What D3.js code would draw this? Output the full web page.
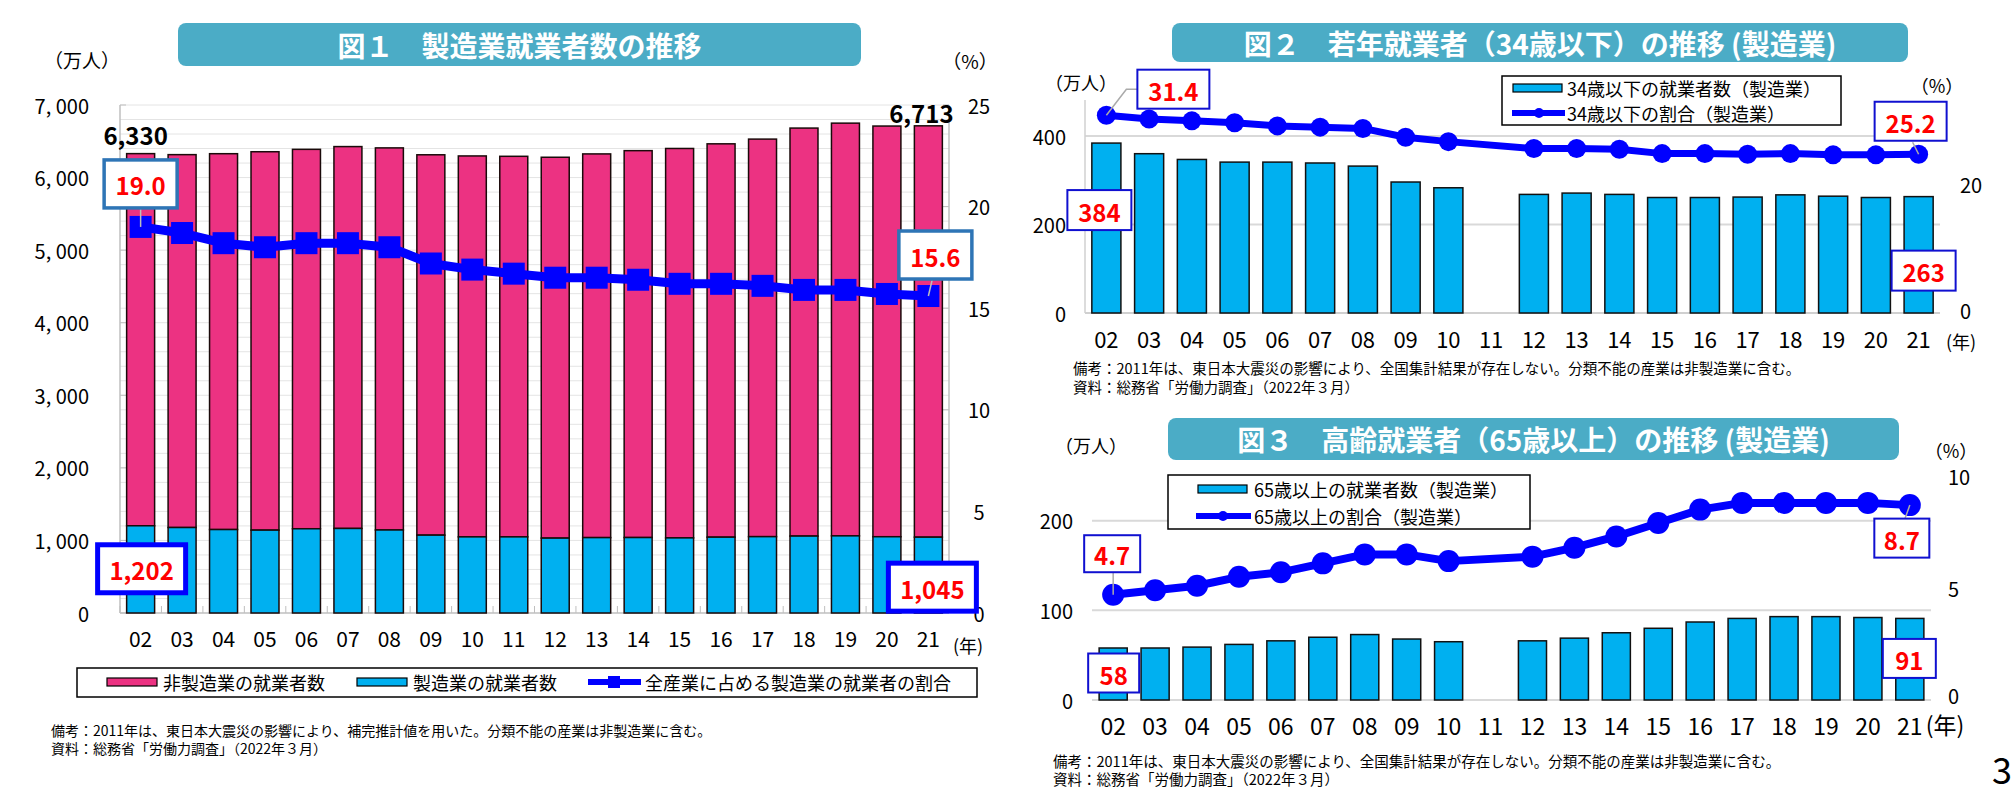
<!DOCTYPE html>
<html><head><meta charset="utf-8">
<script src="https://cdn.jsdelivr.net/npm/d3@7"></script>
<style>
html,body{margin:0;padding:0;background:#fff;}
text{font-family:'Noto Sans CJK JP','Noto Sans',sans-serif;}
</style></head>
<body>
<svg id="c" width="2015" height="794"></svg>
<script>
// ---------- DATA ----------
const years = ["02","03","04","05","06","07","08","09","10","11","12","13","14","15","16","17","18","19","20","21"];
// Fig.1 (万人, %)
const manufWorkers    = [1202,1178,1150,1142,1161,1165,1144,1073,1049,1049,1032,1039,1040,1035,1045,1052,1060,1063,1051,1045];
const nonManufWorkers = [5128,5138,5179,5214,5228,5262,5265,5241,5249,5244,5248,5287,5331,5366,5420,5478,5622,5687,5659,5668];
const manufShare      = [19.0,18.7,18.2,18.0,18.2,18.2,18.0,17.2,16.9,16.7,16.5,16.5,16.4,16.2,16.2,16.1,15.9,15.9,15.7,15.6];
// Fig.2 (34歳以下)
const youngWorkers = [384,360,347,341,341,339,332,296,283,null,268,271,268,261,261,262,267,264,261,263];
const youngShare   = [31.4,30.8,30.5,30.2,29.7,29.5,29.3,27.9,27.2,null,26.1,26.1,26.0,25.3,25.3,25.2,25.3,25.1,25.1,25.2];
// Fig.3 (65歳以上)
const elderWorkers = [58,58,59,62,66,70,73,68,65,null,66,69,75,80,87,91,93,93,92,91];
const elderShare   = [4.7,4.9,5.1,5.5,5.7,6.1,6.5,6.5,6.2,null,6.4,6.8,7.3,7.9,8.5,8.8,8.8,8.8,8.8,8.7];
// tick labels
const fig1LeftTicks  = [0,1000,2000,3000,4000,5000,6000,7000];
const fig1RightTicks = [0,5,10,15,20,25];
const fig2LeftTicks  = [0,200,400];
const fig2RightTicks = [0,20];
const fig3LeftTicks  = [0,100,200];
const fig3RightTicks = [0,5,10];

const PINK="#EC3282", CYAN="#00B0F0", BLUE="#0000FF", TEAL="#4BACC6", RED="#FF0000";
const svg = d3.select("#c");
const fmt = d3.format(",");

function txt(g,x,y,s,o={}){
  const t=g.append("text").attr("x",x).attr("y",y).text(s)
    .attr("dominant-baseline","central")
    .attr("text-anchor",o.anchor||"middle")
    .attr("font-size",o.size||18)
    .attr("font-weight",o.weight||"normal")
    .attr("fill",o.fill||"#000");
  return t;
}
function valueBox(g,cx,cy,w,h,s,stroke,sw){
  g.append("rect").attr("x",cx-w/2).attr("y",cy-h/2).attr("width",w).attr("height",h)
    .attr("fill","#fff").attr("stroke",stroke).attr("stroke-width",sw);
  txt(g,cx,cy+1,s,{size:24,weight:"bold",fill:RED});
}
function titleBox(g,x0,x1,y0,y1,s){
  g.append("rect").attr("x",x0).attr("y",y0).attr("width",x1-x0).attr("height",y1-y0)
    .attr("rx",8).attr("fill",TEAL);
  txt(g,(x0+x1)/2,(y0+y1)/2,s,{size:28,weight:"bold",fill:"#fff"});
}

// ================= FIG 1 =================
{
  const g = svg.append("g");
  const x = d3.scaleBand().domain(years).range([120,949]).paddingInner(0.325).paddingOuter(0.16);
  const y = d3.scaleLinear().domain([0,7000]).range([613,105]);
  const yr = d3.scaleLinear().domain([0,25]).range([613,105]);
  titleBox(g,178,861,23,66,"図１　製造業就業者数の推移");
  txt(g,82,59,"（万人）",{size:19});
  txt(g,970,60,"（%）",{size:19});
  g.append("g").selectAll("line").data(d3.range(200,7001,200)).join("line")
    .attr("x1",120).attr("x2",949).attr("y1",d=>y(d)).attr("y2",d=>y(d))
    .attr("stroke","#E4E4E4").attr("stroke-width",1);
  g.append("line").attr("x1",120).attr("x2",120).attr("y1",105).attr("y2",613).attr("stroke","#BFBFBF").attr("stroke-width",1.5);
  g.append("line").attr("x1",949).attr("x2",949).attr("y1",105).attr("y2",613).attr("stroke","#BFBFBF").attr("stroke-width",1.5);
  g.append("line").attr("x1",120).attr("x2",949).attr("y1",613).attr("y2",613).attr("stroke","#BFBFBF").attr("stroke-width",1.5);
  g.append("g").selectAll("line").data(d3.range(0,21)).join("line")
    .attr("x1",i=>120+i*829/20).attr("x2",i=>120+i*829/20).attr("y1",613).attr("y2",606)
    .attr("stroke","#BFBFBF");
  fig1LeftTicks.forEach(v=>{ txt(g,89,y(v),fmt(v).replace(",",", "),{size:20,anchor:"end"});
    g.append("line").attr("x1",120).attr("x2",126).attr("y1",y(v)).attr("y2",y(v)).attr("stroke","#BFBFBF");});
  fig1RightTicks.forEach(v=>{ txt(g,979,yr(v),v,{size:20});
    g.append("line").attr("x1",943).attr("x2",949).attr("y1",yr(v)).attr("y2",yr(v)).attr("stroke","#BFBFBF");});
  years.forEach(d=>txt(g,x(d)+x.bandwidth()/2,638,d,{size:21}));
  txt(g,968,645,"(年)",{size:18});
  const bw=x.bandwidth();
  g.append("g").selectAll("rect").data(years).join("rect")
    .attr("x",d=>x(d)).attr("width",bw)
    .attr("y",(d,i)=>y(manufWorkers[i]+nonManufWorkers[i])).attr("height",(d,i)=>y(manufWorkers[i])-y(manufWorkers[i]+nonManufWorkers[i]))
    .attr("fill",PINK).attr("stroke","#1a0a0a").attr("stroke-width",1.5);
  g.append("g").selectAll("rect").data(years).join("rect")
    .attr("x",d=>x(d)).attr("width",bw)
    .attr("y",(d,i)=>y(manufWorkers[i])).attr("height",(d,i)=>y(0)-y(manufWorkers[i]))
    .attr("fill",CYAN).attr("stroke","#1a0a0a").attr("stroke-width",1.5);
  const cx = d=>x(d)+bw/2;
  const pts = years.map((d,i)=>[cx(d),yr(manufShare[i])]);
  g.append("path").attr("d",d3.line()(pts)).attr("fill","none").attr("stroke",BLUE).attr("stroke-width",9).attr("stroke-linejoin","round");
  g.append("g").selectAll("rect").data(pts).join("rect")
    .attr("x",p=>p[0]-11).attr("y",p=>p[1]-11).attr("width",22).attr("height",22).attr("fill",BLUE);
  const n=years.length-1;
  txt(g,cx(years[0])-5,y(manufWorkers[0]+nonManufWorkers[0])-19,fmt(manufWorkers[0]+nonManufWorkers[0]),{size:24,weight:"bold"});
  txt(g,cx(years[n])-7,y(manufWorkers[n]+nonManufWorkers[n])-13,fmt(manufWorkers[n]+nonManufWorkers[n]),{size:24,weight:"bold"});
  g.append("line").attr("x1",pts[0][0]).attr("x2",pts[0][0]).attr("y1",pts[0][1]-43+24).attr("y2",pts[0][1]).attr("stroke","#BDBDBD").attr("stroke-width",1.5);
  valueBox(g,pts[0][0],pts[0][1]-43,73,48,manufShare[0].toFixed(1),"#2E75B6",3.5);
  g.append("line").attr("x1",pts[n][0]+4).attr("x2",pts[n][0]).attr("y1",pts[n][1]-41+24).attr("y2",pts[n][1]).attr("stroke","#BDBDBD").attr("stroke-width",1.5);
  valueBox(g,pts[n][0]+7,pts[n][1]-41,73,48,manufShare[n].toFixed(1),"#2E75B6",3.5);
  valueBox(g,cx(years[0])+1,y(manufWorkers[0])+43,88,48,fmt(manufWorkers[0]),BLUE,5);
  valueBox(g,cx(years[n])+4,y(manufWorkers[n])+50,88,48,fmt(manufWorkers[n]),BLUE,5);
  const L=g.append("g");
  L.append("rect").attr("x",77).attr("y",668).attr("width",900).attr("height",29).attr("fill","#fff").attr("stroke","#000").attr("stroke-width",1.5);
  L.append("rect").attr("x",107).attr("y",678).attr("width",50).attr("height",8).attr("fill",PINK).attr("stroke","#000").attr("stroke-width",1.2);
  txt(L,163,682,"非製造業の就業者数",{size:18,anchor:"start"});
  L.append("rect").attr("x",357).attr("y",678).attr("width",50).attr("height",8).attr("fill",CYAN).attr("stroke","#000").attr("stroke-width",1.2);
  txt(L,413,682,"製造業の就業者数",{size:18,anchor:"start"});
  L.append("line").attr("x1",588).attr("x2",641).attr("y1",682).attr("y2",682).attr("stroke",BLUE).attr("stroke-width",6);
  L.append("rect").attr("x",608).attr("y",676).attr("width",12).attr("height",12).attr("fill",BLUE);
  txt(L,645,682,"全産業に占める製造業の就業者の割合",{size:18,anchor:"start"});
  txt(g,51,730,"備考：2011年は、東日本大震災の影響により、補完推計値を用いた。分類不能の産業は非製造業に含む。",{size:14,anchor:"start"});
  txt(g,51,748,"資料：総務省「労働力調査」（2022年３月）",{size:14,anchor:"start"});
}

// ================= FIG 2 =================
{
  const g = svg.append("g");
  const x = d3.scaleBand().domain(years).range([1085,1940]).paddingInner(0.32).paddingOuter(0.16);
  const y = d3.scaleLinear().domain([0,400]).range([313,136]);
  const yr = d3.scaleLinear().domain([0,20]).range([313,187]);
  titleBox(g,1172,1908,23,62,"図２　若年就業者（34歳以下）の推移 (製造業)");
  txt(g,1081,82,"（万人）",{size:18});
  txt(g,1937,85,"（%）",{size:18});
  fig2LeftTicks.filter(v=>v>0).forEach(v=>g.append("line").attr("x1",1085).attr("x2",1940).attr("y1",y(v)).attr("y2",y(v)).attr("stroke","#D9D9D9").attr("stroke-width",2));
  g.append("line").attr("x1",1085).attr("x2",1085).attr("y1",100).attr("y2",313).attr("stroke","#D0D0D0").attr("stroke-width",1.5);
  g.append("line").attr("x1",1085).attr("x2",1940).attr("y1",313).attr("y2",313).attr("stroke","#D0D0D0").attr("stroke-width",2);
  fig2LeftTicks.forEach(v=>txt(g,1066,y(v),v,{size:20,anchor:"end"}));
  fig2RightTicks.forEach(v=>txt(g,1960,yr(v)-3,v,{size:20,anchor:"start"}));
  years.forEach(d=>txt(g,x(d)+x.bandwidth()/2,338,d,{size:22}));
  txt(g,1961,341,"(年)",{size:18});
  const bw=x.bandwidth(), cx=d=>x(d)+bw/2;
  g.append("g").selectAll("rect").data(years.filter((d,i)=>youngWorkers[i]!=null)).join("rect")
    .attr("x",d=>x(d)).attr("width",bw)
    .attr("y",d=>y(youngWorkers[years.indexOf(d)])).attr("height",d=>y(0)-y(youngWorkers[years.indexOf(d)]))
    .attr("fill",CYAN).attr("stroke","#111").attr("stroke-width",1.5);
  const pts = years.map((d,i)=>youngShare[i]==null?null:[cx(d),yr(youngShare[i])]).filter(p=>p);
  g.append("path").attr("d",d3.line()(pts)).attr("fill","none").attr("stroke",BLUE).attr("stroke-width",7).attr("stroke-linejoin","round");
  g.append("g").selectAll("circle").data(pts).join("circle").attr("cx",p=>p[0]).attr("cy",p=>p[1]).attr("r",9.5).attr("fill",BLUE);
  const p0=pts[0], pn=pts[pts.length-1], n=years.length-1;
  g.append("polyline").attr("points",[[p0[0],p0[1]],[p0[0]+20,p0[1]-26],[p0[0]+33,p0[1]-26]].join(" ")).attr("fill","none").attr("stroke","#AAAAAA").attr("stroke-width",1.5);
  valueBox(g,p0[0]+67,p0[1]-26,72,39,youngShare[0].toFixed(1),"#1010D0",2);
  g.append("line").attr("x1",pn[0]).attr("x2",pn[0]-6).attr("y1",pn[1]).attr("y2",pn[1]-12).attr("stroke","#AAAAAA").attr("stroke-width",1.5);
  valueBox(g,pn[0]-8,pn[1]-33,72,39,youngShare[n].toFixed(1),"#1010D0",2);
  valueBox(g,cx(years[0])-7,y(youngWorkers[0])+67,64,40,youngWorkers[0],"#1010D0",2);
  valueBox(g,cx(years[n])+5,y(youngWorkers[n])+74,64,40,youngWorkers[n],"#1010D0",2);
  const L=g.append("g");
  L.append("rect").attr("x",1502).attr("y",76).attr("width",339).attr("height",49).attr("fill","#fff").attr("stroke","#000").attr("stroke-width",1.5);
  L.append("rect").attr("x",1513).attr("y",84).attr("width",49).attr("height",8).attr("fill",CYAN).attr("stroke","#000").attr("stroke-width",1.2);
  txt(L,1567,88,"34歳以下の就業者数（製造業）",{size:18,anchor:"start"});
  L.append("line").attr("x1",1512).attr("x2",1565).attr("y1",113).attr("y2",113).attr("stroke",BLUE).attr("stroke-width",6);
  L.append("circle").attr("cx",1539).attr("cy",113).attr("r",5).attr("fill",BLUE);
  txt(L,1567,113,"34歳以下の割合（製造業）",{size:18,anchor:"start"});
  txt(g,1073,367,"備考：2011年は、東日本大震災の影響により、全国集計結果が存在しない。分類不能の産業は非製造業に含む。",{size:14.5,anchor:"start"});
  txt(g,1073,386,"資料：総務省「労働力調査」（2022年３月）",{size:14.5,anchor:"start"});
}

// ================= FIG 3 =================
{
  const g = svg.append("g");
  const x = d3.scaleBand().domain(years).range([1092,1931]).paddingInner(0.33).paddingOuter(0.17);
  const y = d3.scaleLinear().domain([0,200]).range([700,520.7]);
  const yr = d3.scaleLinear().domain([0,10]).range([700,476]);
  titleBox(g,1168,1899,418,460,"図３　高齢就業者（65歳以上）の推移 (製造業)");
  txt(g,1091,445,"（万人）",{size:18});
  txt(g,1951,450,"（%）",{size:18});
  fig3LeftTicks.forEach(v=>g.append("line").attr("x1",1092).attr("x2",1931).attr("y1",y(v)).attr("y2",y(v)).attr("stroke","#D9D9D9").attr("stroke-width",2));
  fig3LeftTicks.forEach(v=>txt(g,1073,y(v),v,{size:20,anchor:"end"}));
  fig3RightTicks.forEach(v=>txt(g,1948,yr(v)-(v===0?5:0),v,{size:20,anchor:"start"}));
  years.forEach(d=>txt(g,x(d)+x.bandwidth()/2,725,d,{size:23}));
  txt(g,1945,724,"(年)",{size:23});
  const bw=x.bandwidth(), cx=d=>x(d)+bw/2;
  g.append("g").selectAll("rect").data(years.filter((d,i)=>elderWorkers[i]!=null)).join("rect")
    .attr("x",d=>x(d)).attr("width",bw)
    .attr("y",d=>y(elderWorkers[years.indexOf(d)])).attr("height",d=>y(0)-y(elderWorkers[years.indexOf(d)]))
    .attr("fill",CYAN).attr("stroke","#111").attr("stroke-width",1.5);
  const pts = years.map((d,i)=>elderShare[i]==null?null:[cx(d),yr(elderShare[i])]).filter(p=>p);
  g.append("path").attr("d",d3.line()(pts)).attr("fill","none").attr("stroke",BLUE).attr("stroke-width",8).attr("stroke-linejoin","round");
  g.append("g").selectAll("circle").data(pts).join("circle").attr("cx",p=>p[0]).attr("cy",p=>p[1]).attr("r",11).attr("fill",BLUE);
  const p0=pts[0], pn=pts[pts.length-1], n=years.length-1;
  g.append("line").attr("x1",p0[0]).attr("x2",p0[0]).attr("y1",p0[1]).attr("y2",p0[1]-22).attr("stroke","#AAAAAA").attr("stroke-width",1.5);
  valueBox(g,p0[0]-1,p0[1]-41,56,37,elderShare[0].toFixed(1),"#1010D0",2);
  g.append("line").attr("x1",pn[0]).attr("x2",pn[0]-5).attr("y1",pn[1]).attr("y2",pn[1]+14).attr("stroke","#AAAAAA").attr("stroke-width",1.5);
  valueBox(g,pn[0]-8,pn[1]+33,55,39,elderShare[n].toFixed(1),"#1010D0",2);
  valueBox(g,cx(years[0])+0.5,y(elderWorkers[0])+25,51,39,elderWorkers[0],"#1010D0",2);
  valueBox(g,cx(years[n])-0.5,y(elderWorkers[n])+40,53,39,elderWorkers[n],"#1010D0",2);
  const L=g.append("g");
  L.append("rect").attr("x",1168).attr("y",475).attr("width",362).attr("height",54).attr("fill","#fff").attr("stroke","#000").attr("stroke-width",1.5);
  L.append("rect").attr("x",1198).attr("y",485).attr("width",49).attr("height",8).attr("fill",CYAN).attr("stroke","#000").attr("stroke-width",1.2);
  txt(L,1254,489,"65歳以上の就業者数（製造業）",{size:18,anchor:"start"});
  L.append("line").attr("x1",1196).attr("x2",1251).attr("y1",516).attr("y2",516).attr("stroke",BLUE).attr("stroke-width",6);
  L.append("circle").attr("cx",1223).attr("cy",516).attr("r",5).attr("fill",BLUE);
  txt(L,1254,516,"65歳以上の割合（製造業）",{size:18,anchor:"start"});
  txt(g,1053,760,"備考：2011年は、東日本大震災の影響により、全国集計結果が存在しない。分類不能の産業は非製造業に含む。",{size:14.5,anchor:"start"});
  txt(g,1053,778,"資料：総務省「労働力調査」（2022年３月）",{size:14.5,anchor:"start"});
}
txt(svg,2002,768,"3",{size:36});
</script>
</body></html>
